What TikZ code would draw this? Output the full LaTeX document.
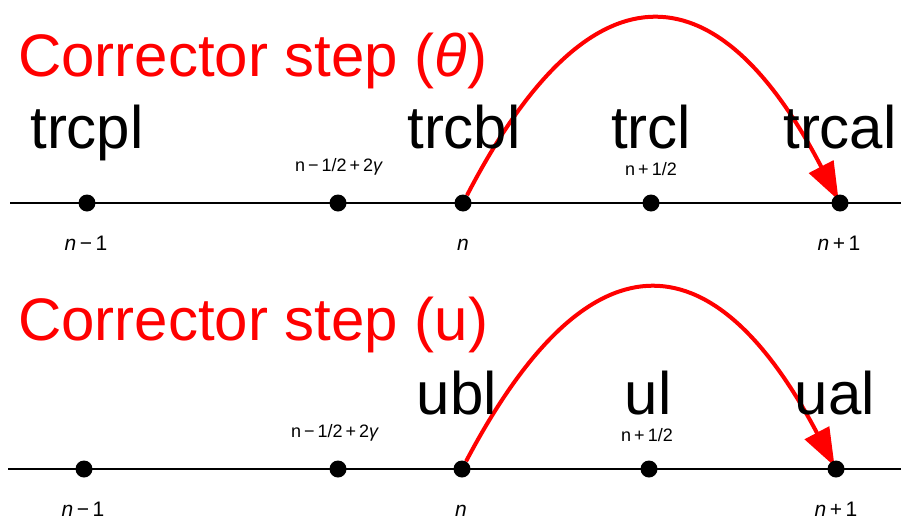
\documentclass[tikz,border=0pt]{standalone}
\usepackage{fontspec}
\setmainfont{Liberation Sans}
\usetikzlibrary{arrows.meta,backgrounds}

\begin{document}
\begin{tikzpicture}[x=1pt,y=-1pt,
  dot/.style={circle,fill=black,inner sep=0pt,minimum size=17pt},
  axis/.style={line width=1.3pt},
  title/.style={anchor=base west,inner sep=0pt,text=red,font=\fontsize{60}{60}\selectfont},
  bigname/.style={anchor=base,inner sep=0pt,font=\fontsize{60}{60}\selectfont},
  small/.style={anchor=base,inner sep=0pt,font=\fontsize{18}{18}\selectfont},
  index/.style={anchor=base,inner sep=0pt,font=\fontsize{21}{21}\selectfont},
  jump/.style={red,line width=4pt,shorten >=3pt,-{Triangle[length=38pt,width=27pt]}}]
\useasboundingbox (0,0) rectangle (901,522);
% Top: theta
\coordinate (ta) at (10,203);
\coordinate (tb) at (901,203);
\draw[axis] (ta) -- (tb);
\node[dot] (t1) at (87,203) {};
\node[dot] (t2) at (338,203) {};
\node[dot] (t3) at (463,203) {};
\node[dot] (t4) at (651,203) {};
\node[dot] (t5) at (840,203) {};
\begin{scope}[on background layer]
\draw[jump] (t3) .. controls +(125,-241) and +(-125,-241) .. (t5.center);
\end{scope}
\node[title] (ttitle) at (18,76) {Corrector step (\textit{θ})};
\node[bigname] (tpl) at (87,148) {trcpl};
\node[bigname] (tbl) at (464,148) {trcbl};
\node[bigname] (tl) at (651,148) {trcl};
\node[bigname] (tal) at (840,148) {trcal};
\node[small] (tg) at (339,171) {n\,−\,1/2\,+\,2\textit{γ}};
\node[small] (th) at (651,175) {n\,+\,1/2};
\node[index] (tm) at (86,250) {\textit{n}\,−\,1};
\node[index] (tn) at (463,250) {\textit{n}};
\node[index] (tp) at (839,250) {\textit{n}\,+\,1};
% Bottom: u
\coordinate (ua) at (8,469);
\coordinate (ub) at (901,469);
\draw[axis] (ua) -- (ub);
\node[dot] (u1) at (84,469) {};
\node[dot] (u2) at (338,469) {};
\node[dot] (u3) at (462,469) {};
\node[dot] (u4) at (649,469) {};
\node[dot] (u5) at (836,469) {};
\begin{scope}[on background layer]
\draw[jump] (u3) .. controls +(125,-237) and +(-125,-237) .. (u5.center);
\end{scope}
\node[title] (utitle) at (18,340) {Corrector step (u)};
\node[bigname] (ubl) at (457,414) {ubl};
\node[bigname] (ul) at (648,414) {ul};
\node[bigname] (ual) at (835,414) {ual};
\node[small] (ug) at (335,437) {n\,−\,1/2\,+\,2\textit{γ}};
\node[small] (uh) at (647,441) {n\,+\,1/2};
\node[index] (um) at (83,516) {\textit{n}\,−\,1};
\node[index] (un) at (461,516) {\textit{n}};
\node[index] (up) at (836,516) {\textit{n}\,+\,1};
\end{tikzpicture}
\end{document}
